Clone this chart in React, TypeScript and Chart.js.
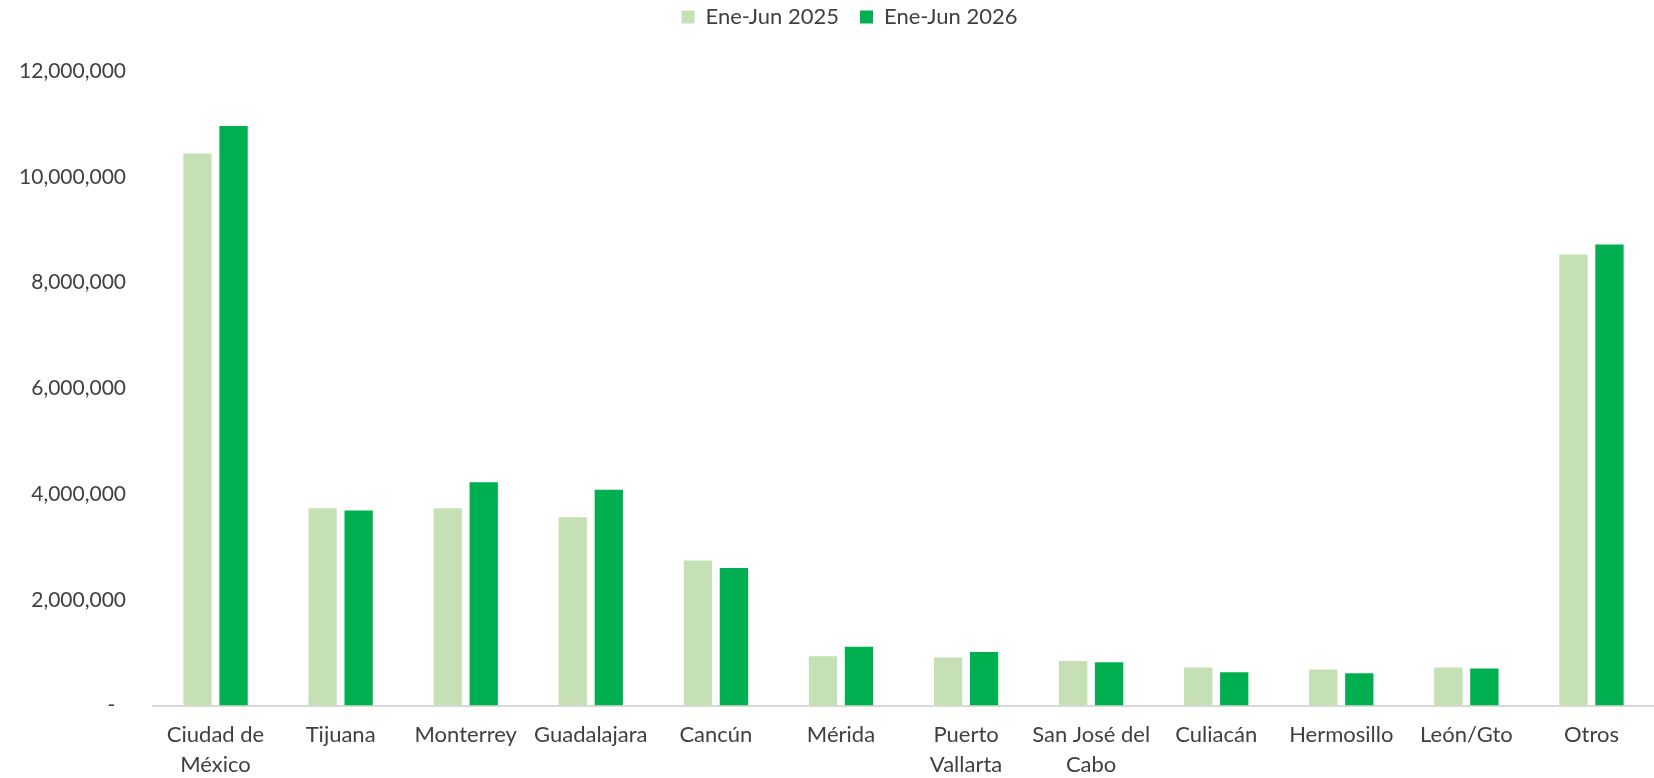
import React, { useEffect, useRef } from 'react';
import { Chart, registerables } from 'chart.js';

Chart.register(...registerables);

const categories: (string | string[])[] = [
  ['Ciudad de', 'México'],
  'Tijuana',
  'Monterrey',
  'Guadalajara',
  'Cancún',
  'Mérida',
  ['Puerto', 'Vallarta'],
  ['San José del', 'Cabo'],
  'Culiacán',
  'Hermosillo',
  'León/Gto',
  'Otros',
];

const seriesNames = ['Ene-Jun 2025', 'Ene-Jun 2026'];

const values2025 = [10440000, 3730000, 3730000, 3560000, 2740000, 930000, 910000, 840000, 720000, 680000, 720000, 8530000];
const values2026 = [10960000, 3690000, 4220000, 4080000, 2600000, 1110000, 1010000, 820000, 630000, 610000, 700000, 8720000];

const yMin = 0;
const yMax = 12000000;
const yStep = 2000000;

const W = 1654;
const H = 778;
const FONT = 'Lato, "Open Sans", "Noto Sans", sans-serif';
const TEXT = '#404040';
const LEGEND_EXTRA = 33;
const LEGEND_LEFT = 45;

const legendSpacer = {
  id: 'legendSpacer',
  beforeInit(chart: any) {
    const legend = chart.legend;
    if (!legend) return;
    const orig = legend.fit;
    legend.fit = function () {
      orig.call(this);
      this.height += LEGEND_EXTRA;
    };
  },
  afterLayout(chart: any) {
    const legend = chart.legend;
    if (!legend) return;
    legend.left = LEGEND_LEFT;
    legend.width = legend.right - legend.left;
  },
};

export default function App() {
  const ref = useRef<HTMLCanvasElement | null>(null);

  useEffect(() => {
    if (!ref.current) return;
    const chart = new Chart(ref.current, {
      type: 'bar',
      data: {
        labels: categories,
        datasets: [
          {
            label: seriesNames[0],
            data: values2025,
            backgroundColor: '#C5E0B4',
            borderWidth: 0,
            categoryPercentage: 0.576,
            barPercentage: 0.786,
          },
          {
            label: seriesNames[1],
            data: values2026,
            backgroundColor: '#00B050',
            borderWidth: 0,
            categoryPercentage: 0.576,
            barPercentage: 0.786,
          },
        ],
      },
      options: {
        responsive: false,
        maintainAspectRatio: false,
        animation: false,
        devicePixelRatio: 1,
        layout: { padding: { top: -15, left: 0, right: 0, bottom: 0 } },
        plugins: {
          legend: {
            display: true,
            position: 'top',
            align: 'center',
            labels: {
              boxWidth: 13,
              boxHeight: 13,
              padding: 21,
              color: TEXT,
              font: { family: FONT, size: 22 },
            },
          },
          tooltip: { enabled: false },
          title: { display: false },
        },
        scales: {
          x: {
            grid: { display: false, drawTicks: false },
            border: { display: true, color: '#D9D9D9', width: 2 },
            ticks: {
              color: TEXT,
              padding: 15,
              maxRotation: 0,
              autoSkip: false,
              font: { family: FONT, size: 22, lineHeight: 1.34 },
            },
            afterFit(scale: any) {
              scale.height = 72.5;
            },
          },
          y: {
            min: yMin,
            max: yMax,
            grid: { display: false, drawTicks: false },
            border: { display: false },
            ticks: {
              stepSize: yStep,
              color: TEXT,
              padding: 27,
              font: { family: FONT, size: 21 },
              callback: (v: any) => (Number(v) === 0 ? '-  ' : Number(v).toLocaleString('en-US')),
            },
            afterFit(scale: any) {
              scale.width = 153;
            },
          },
        },
      },
      plugins: [legendSpacer],
    } as any);
    return () => chart.destroy();
  }, []);

  return (
    <div style={{ position: 'absolute', left: 0, top: 0, width: W, height: H, background: '#fff' }}>
      <canvas ref={ref} width={W} height={H} style={{ width: W, height: H, display: 'block' }} />
    </div>
  );
}
